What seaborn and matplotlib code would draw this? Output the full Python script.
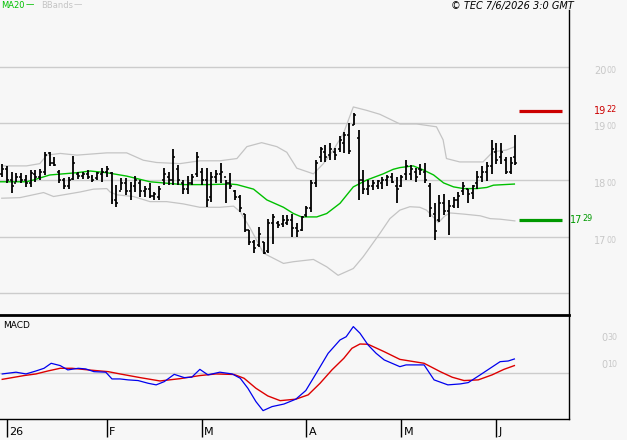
import numpy as np
import pandas as pd
import matplotlib
matplotlib.use('Agg')
import matplotlib.pyplot as plt
import matplotlib.transforms as mtrans
import seaborn as sns

# ---- data (one bar per trading day, 31 Dec 2025 .. 5 Jun 2026) ----
highs = [1828, 1824, 1815, 1813, 1812, 1809, 1818, 1818, 1819, 1850,
         1850, 1841, 1818, 1803, 1806, 1842, 1815, 1815, 1818, 1809,
         1815, 1821, 1824, 1815, 1791, 1803, 1803, 1797, 1807, 1800,
         1789, 1794, 1779, 1789, 1821, 1815, 1855, 1826, 1800, 1807,
         1811, 1850, 1821, 1821, 1815, 1818, 1831, 1800, 1813, 1782,
         1774, 1741, 1712, 1694, 1718, 1691, 1731, 1741, 1727, 1738,
         1738, 1741, 1724, 1737, 1754, 1800, 1835, 1859, 1862, 1865,
         1856, 1878, 1885, 1900, 1918, 1888, 1818, 1800, 1800, 1800,
         1806, 1809, 1813, 1805, 1809, 1835, 1826, 1822, 1829, 1831,
         1794, 1759, 1774, 1776, 1765, 1771, 1779, 1797, 1785, 1791,
         1816, 1825, 1832, 1871, 1865, 1865, 1841, 1841, 1879]
lows = [1806, 1794, 1778, 1797, 1794, 1787, 1787, 1797, 1800, 1809,
        1825, 1824, 1794, 1785, 1784, 1800, 1802, 1802, 1802, 1797,
        1800, 1797, 1806, 1757, 1752, 1782, 1774, 1764, 1779, 1771,
        1771, 1768, 1765, 1765, 1791, 1792, 1791, 1791, 1775, 1776,
        1791, 1806, 1791, 1753, 1762, 1794, 1795, 1759, 1785, 1765,
        1744, 1709, 1685, 1671, 1682, 1669, 1671, 1687, 1715, 1718,
        1721, 1700, 1700, 1711, 1735, 1744, 1787, 1832, 1832, 1835,
        1835, 1850, 1848, 1846, 1897, 1765, 1775, 1774, 1782, 1784,
        1784, 1789, 1794, 1760, 1788, 1800, 1800, 1797, 1809, 1794,
        1735, 1694, 1726, 1738, 1703, 1750, 1750, 1774, 1760, 1766,
        1785, 1797, 1799, 1811, 1829, 1829, 1811, 1811, 1826]
opens = [1810, 1820, 1800, 1795, 1805, 1800, 1795, 1810, 1805, 1815,
         1848, 1830, 1815, 1800, 1790, 1802, 1810, 1808, 1810, 1805,
         1803, 1810, 1815, 1812, 1765, 1780, 1795, 1780, 1790, 1795,
         1780, 1785, 1772, 1770, 1800, 1805, 1800, 1820, 1795, 1785,
         1795, 1810, 1815, 1800, 1770, 1805, 1810, 1805, 1795, 1780,
         1770, 1740, 1712, 1690, 1685, 1690, 1675, 1725, 1725, 1722,
         1725, 1730, 1715, 1712, 1738, 1750, 1795, 1840, 1850, 1845,
         1850, 1855, 1865, 1880, 1898, 1875, 1800, 1785, 1790, 1790,
         1795, 1800, 1805, 1790, 1790, 1810, 1810, 1815, 1820, 1815,
         1790, 1740, 1730, 1760, 1745, 1755, 1765, 1780, 1785, 1778,
         1795, 1805, 1815, 1825, 1850, 1840, 1835, 1815, 1840]
closes = [1820, 1800, 1790, 1805, 1800, 1795, 1812, 1805, 1815, 1845,
          1830, 1827, 1800, 1790, 1800, 1830, 1808, 1810, 1805, 1800,
          1812, 1815, 1820, 1765, 1760, 1795, 1780, 1790, 1800, 1780,
          1785, 1772, 1775, 1785, 1810, 1800, 1840, 1800, 1785, 1795,
          1805, 1840, 1800, 1765, 1805, 1810, 1815, 1795, 1790, 1770,
          1750, 1712, 1690, 1680, 1705, 1672, 1725, 1735, 1720, 1730,
          1730, 1715, 1710, 1735, 1750, 1795, 1830, 1855, 1840, 1855,
          1845, 1870, 1880, 1852, 1915, 1800, 1785, 1790, 1795, 1798,
          1800, 1805, 1797, 1785, 1805, 1825, 1820, 1805, 1818, 1800,
          1750, 1710, 1760, 1745, 1755, 1765, 1772, 1790, 1775, 1790,
          1805, 1815, 1825, 1855, 1835, 1850, 1815, 1830, 1830]

# moving average (MA20)
ma_x = [-0.4, 5.1, 6.5, 10.0, 15.7, 18.5, 22.0, 26.2, 31.1, 38.1, 43.0, 48.0,
        49.4, 52.9, 55.7, 59.2, 61.3, 63.0, 66.2, 68.3, 71.1, 73.9, 76.7, 80.2,
        82.3, 83.7, 86.5, 88.6, 90.8, 92.9, 95.0, 97.1, 99.9, 102.0, 103.4, 107.8]
ma_y = [1797, 1797, 1800, 1809, 1813, 1816, 1813, 1807, 1797, 1792, 1792, 1793,
        1792, 1784, 1765, 1752, 1741, 1735, 1735, 1741, 1759, 1788, 1800, 1811,
        1819, 1822, 1825, 1818, 1809, 1795, 1788, 1785, 1785, 1787, 1791, 1793]

# Bollinger bands
bb_up_x = [-0.1, 5.1, 7.9, 9.4, 12.2, 15.7, 22.0, 26.2, 29.7, 32.5, 37.4, 41.6,
           45.8, 49.4, 51.5, 54.6, 57.8, 59.9, 62.0, 65.5, 67.6, 69.7, 71.8, 73.9,
           76.7, 79.5, 83.7, 87.2, 91.4, 92.8, 93.5, 96.3, 101.2, 103.3, 106.1, 107.9]
bb_up_y = [1825, 1825, 1829, 1844, 1847, 1844, 1848, 1848, 1835, 1831, 1829, 1834,
           1834, 1838, 1859, 1866, 1859, 1849, 1821, 1811, 1829, 1853, 1882, 1929,
           1923, 1916, 1899, 1899, 1894, 1871, 1838, 1832, 1832, 1850, 1853, 1859]
bb_lo_x = [-0.1, 3.7, 6.5, 8.7, 10.8, 13.6, 16.4, 19.2, 22.0, 22.7, 24.1, 27.6,
           31.1, 34.6, 38.1, 41.6, 45.8, 48.7, 50.1, 52.2, 55.0, 59.2, 61.3, 65.5,
           68.3, 70.7, 73.9, 76.0, 79.5, 81.6, 83.7, 85.8, 87.9, 89.3, 90.7, 91.8,
           93.2, 94.3, 97.1, 100.6, 102.7, 104.8, 107.9]
bb_lo_y = [1768, 1769, 1774, 1778, 1771, 1775, 1779, 1784, 1785, 1779, 1774, 1771,
           1762, 1762, 1758, 1752, 1752, 1754, 1744, 1715, 1671, 1653, 1656, 1660,
           1647, 1632, 1644, 1665, 1706, 1732, 1747, 1753, 1752, 1747, 1735, 1725,
           1737, 1742, 1740, 1737, 1732, 1731, 1728]

# MACD and signal line
macd_x = [0, 2.9, 5.0, 7.1, 8.8, 10.3, 12.2, 13.8, 16.0, 17.6, 19.3, 21.8, 23.1,
          24.8, 26.5, 28.6, 30.7, 32.4, 34.1, 36.2, 38.3, 39.9, 41.6, 43.3, 45.8,
          48.4, 50.1, 51.7, 53.4, 54.9, 56.8, 59.3, 61.8, 63.9, 66.1, 68.6, 71.1,
          72.4, 73.9, 75.3, 77.0, 78.7, 80.4, 83.7, 85.0, 88.8, 90.9, 93.8, 96.4,
          98.1, 100.6, 102.7, 104.8, 106.5, 107.8]
macd_y = [-0.005, 0.008, -0.005, 0.017, 0.037, 0.074, 0.057, 0.025, 0.037, 0.032,
          0.012, 0.008, -0.042, -0.042, -0.049, -0.054, -0.074, -0.086, -0.062,
          -0.008, -0.032, -0.029, 0.029, -0.012, 0.008, -0.005, -0.037, -0.111,
          -0.210, -0.277, -0.247, -0.228, -0.192, -0.128, 0.0, 0.148, 0.247, 0.271,
          0.346, 0.297, 0.210, 0.148, 0.099, 0.049, 0.062, 0.062, -0.049, -0.086,
          -0.079, -0.069, -0.012, 0.037, 0.086, 0.091, 0.106]
sig_x = [0, 4.6, 7.1, 9.6, 12.2, 14.7, 18.1, 22.3, 24.8, 29.0, 33.2, 37.4, 41.6,
         45.0, 48.8, 50.9, 53.4, 55.9, 58.5, 61.8, 64.4, 66.9, 69.4, 71.9, 73.6,
         75.3, 77.0, 80.4, 83.7, 88.8, 92.2, 94.7, 97.2, 100.2, 103.1, 105.6, 107.8]
sig_y = [-0.045, -0.017, -0.005, 0.017, 0.037, 0.037, 0.025, 0.012, -0.005,
         -0.032, -0.057, -0.040, -0.017, -0.005, -0.009, -0.037, -0.111, -0.168,
         -0.203, -0.192, -0.160, -0.074, 0.025, 0.111, 0.185, 0.217, 0.215, 0.160,
         0.103, 0.074, 0.012, -0.029, -0.054, -0.049, -0.012, 0.029, 0.057]

# month starts (bar index) and labels
month_idx = [1, 22, 42, 64, 84, 104]
month_lab = ['26', 'F', 'M', 'A', 'M', 'J']

price_ticks = [1700, 1800, 1900, 2000]
price_grid = [1600, 1700, 1800, 1900, 2000]
resistance = 1922
support = 1729

bg = '#f7f7f7'
plt.rcParams['font.family'] = ['DejaVu Sans']

fig = plt.figure(figsize=(6.27, 4.40), dpi=100, facecolor=bg)
W, H = 627, 440
ax = fig.add_axes([0, (H - 315) / H, 569 / W, 305 / H], facecolor=bg)
axm = fig.add_axes([0, (H - 419) / H, 569 / W, 104 / H], facecolor=bg)

idx = np.arange(len(closes))

# grid lines
for g in price_grid:
    ax.axhline(g, color='#cccccc', lw=1.0, zorder=0)
axm.axhline(0, color='#cccccc', lw=1.0, zorder=0)

# bands and MA
sns.lineplot(x=bb_up_x, y=bb_up_y, ax=ax, color='#c4c4c4', lw=0.9, zorder=1)
sns.lineplot(x=bb_lo_x, y=bb_lo_y, ax=ax, color='#c4c4c4', lw=0.9, zorder=1)
sns.lineplot(x=ma_x, y=ma_y, ax=ax, color='#00c000', lw=1.0, zorder=2)

# OHLC bars
tk = 0.42
ax.vlines(idx, lows, highs, color='black', lw=1.3, zorder=3)
ax.hlines(opens, idx - tk, idx, color='black', lw=1.1, zorder=3)
ax.hlines(closes, idx, idx + tk, color='black', lw=1.1, zorder=3)

# support / resistance
ax.hlines([resistance], 108.8, 117.9, color='#cc0000', lw=2.3, zorder=3)
ax.hlines([support], 108.8, 117.9, color='#009900', lw=2.3, zorder=3)

ax.set_xlim(-0.47, 119.3)
ax.set_ylim(1562, 2100)
axm.set_xlim(-0.47, 119.3)
axm.set_ylim(-0.339, 0.432)

# MACD lines
sns.lineplot(x=macd_x, y=macd_y, ax=axm, color='#0000ee', lw=0.9, zorder=3)
sns.lineplot(x=sig_x, y=sig_y, ax=axm, color='#dd0000', lw=1.0, zorder=2)

# spines
for s in ['left', 'top', 'bottom']:
    ax.spines[s].set_visible(False)
ax.spines['right'].set_color('black')
ax.spines['right'].set_linewidth(1.0)
axm.spines['left'].set_visible(False)
axm.spines['top'].set_linewidth(2.0)
axm.spines['right'].set_linewidth(1.0)
axm.spines['bottom'].set_linewidth(1.0)

ax.set_xticks([])
ax.set_yticks([])
ax.set_xlabel('')
ax.set_ylabel('')
axm.set_yticks([])
axm.set_xticks(month_idx)
axm.set_xticklabels([])
axm.tick_params(axis='x', direction='out', length=13, width=1.0, color='black')
axm.set_xlabel('')
axm.set_ylabel('')

# month labels to the right of each tick
tr_m = mtrans.blended_transform_factory(axm.transData, axm.transAxes)
for i, lab in zip(month_idx, month_lab):
    axm.text(i + 0.45, -0.175, lab, transform=tr_m, ha='left', va='bottom',
             fontsize=8, color='black')


def split_label(a, val, big, small, px, color, va='top'):
    # integer part in normal size, "decimals" smaller and raised, as on the chart
    tr = mtrans.blended_transform_factory(a.transAxes, a.transData)
    a.annotate(big, xy=(1, val), xycoords=tr, xytext=(px * 0.72, 0),
               textcoords='offset points', ha='left', va=va, fontsize=7, color=color)
    dx = px + 6.2 * len(big) + 0.3
    a.annotate(small, xy=(1, val), xycoords=tr, xytext=(dx * 0.72, 0 if va == 'top' else 1.0),
               textcoords='offset points', ha='left', va=va, fontsize=5.8, color=color)


for p in price_ticks:
    s = str(p)
    split_label(ax, p + 2, s[:2], s[2:], 25, '#c8c8c8')
split_label(ax, resistance, '19', '22', 25, '#cc0000', va='center')
split_label(axm, 0.30, '0', '30', 32, '#c8c8c8')
split_label(axm, 0.10, '0', '10', 32, '#c8c8c8')
split_label(ax, support, '17', '29', 1, '#009900', va='center')

axm.text(0.005, 0.94, 'MACD', transform=axm.transAxes, ha='left', va='top', fontsize=6.5)

# header texts
fig.text(1 / W, 1 - 0.5 / H, 'MA20', color='#00c000', fontsize=6, ha='left', va='top')
fig.text(26 / W, 1 - 0.5 / H, '\u2014', color='#00c000', fontsize=6, ha='left', va='top')
fig.text(41 / W, 1 - 0.5 / H, 'BBands', color='#c4c4c4', fontsize=6, ha='left', va='top')
fig.text(74 / W, 1 - 0.5 / H, '\u2014', color='#c4c4c4', fontsize=6, ha='left', va='top')
fig.text(574 / W, 1 - 0.5 / H, '\u00a9 TEC 7/6/2026 3:0 GMT', color='black',
         fontsize=7, style='italic', ha='right', va='top')

fig.savefig('out.png', dpi=100, facecolor=bg)
